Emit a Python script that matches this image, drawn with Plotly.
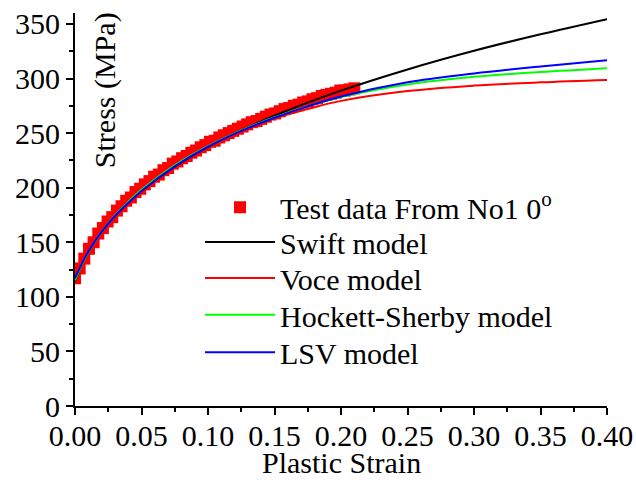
import plotly.graph_objects as go

# ---- data ----
test_strain = [0.0, 0.0035, 0.007, 0.0105, 0.014, 0.0175, 0.021, 0.0245, 0.028, 0.0315,
               0.035, 0.0385, 0.042, 0.0455, 0.049, 0.0525, 0.056, 0.0595, 0.063, 0.0665,
               0.07, 0.0735, 0.077, 0.0805, 0.084, 0.0875, 0.091, 0.0945, 0.098, 0.1015,
               0.105, 0.1085, 0.112, 0.1155, 0.119, 0.1225, 0.126, 0.1295, 0.133, 0.1365,
               0.14, 0.1435, 0.147, 0.1505, 0.154, 0.1575, 0.161, 0.1645, 0.168, 0.1715,
               0.175, 0.1785, 0.182, 0.1855, 0.189, 0.1925, 0.196, 0.1995, 0.203, 0.2065, 0.21]
test_stress = [117, 126, 135, 144, 150, 158, 163, 169, 173, 179,
               183, 188, 191, 196, 199, 203, 206, 210, 212, 216,
               218, 222, 224, 227, 229, 232, 234, 237, 239, 242,
               243, 246, 248, 250, 252, 254, 256, 258, 260, 261,
               263, 265, 267, 268, 270, 272, 273, 275, 276, 278,
               279, 281, 282, 284, 285, 286, 287, 289, 289, 290, 291]

model_strain = [0.0, 0.005, 0.01, 0.02, 0.03, 0.04, 0.05, 0.075, 0.1, 0.125,
                0.15, 0.175, 0.2, 0.25, 0.3, 0.35, 0.4]
swift_stress = [114.2, 129.2, 141.1, 159.7, 174.2, 186.5, 197.2, 219.2, 237.3, 252.4,
                265.9, 277.9, 288.9, 308.3, 325.4, 340.5, 354.4]
voce_stress = [116, 130.5, 143, 162, 177, 189.5, 200, 221.5, 238.5, 252,
               263.5, 272, 279.5, 288.5, 293.5, 296.5, 298.7]
hs_stress = [115, 129, 141, 159.5, 174.5, 187, 198, 220.5, 238, 252.5,
             264.5, 274.5, 283, 294.5, 301.5, 306, 309.5]
lsv_stress = [117, 130, 141.5, 159.5, 174, 186, 197, 219.5, 237.5, 252,
              264, 274.5, 283.5, 296.5, 304.5, 311, 316.8]

x_ticks = [0.0, 0.05, 0.10, 0.15, 0.20, 0.25, 0.30, 0.35, 0.40]
y_ticks = [0, 50, 100, 150, 200, 250, 300, 350]

FONT = "Liberation Serif, Times New Roman, serif"

fig = go.Figure()
fig.add_trace(go.Scatter(x=test_strain, y=test_stress, mode="markers",
                         marker=dict(symbol="square", size=12, color="#ff0000", line=dict(width=0)),
                         name="Test data From No1 0<sup>o</sup>", legend="legend"))
fig.add_trace(go.Scatter(x=model_strain, y=swift_stress, mode="lines", line=dict(color="#000000", width=2, shape="spline"),
                         name="Swift model", legend="legend2"))
fig.add_trace(go.Scatter(x=model_strain, y=voce_stress, mode="lines", line=dict(color="#ff0000", width=2, shape="spline"),
                         name="Voce model", legend="legend3"))
fig.add_trace(go.Scatter(x=model_strain, y=hs_stress, mode="lines", line=dict(color="#00ff00", width=2, shape="spline"),
                         name="Hockett-Sherby model", legend="legend4"))
fig.add_trace(go.Scatter(x=model_strain, y=lsv_stress, mode="lines", line=dict(color="#0000ff", width=2, shape="spline"),
                         name="LSV model", legend="legend5"))

def leg(yc, sizing="trace"):
    return dict(x=0.235, y=yc, xanchor="left", yanchor="middle", bgcolor="rgba(0,0,0,0)",
                font=dict(family=FONT, size=30), itemwidth=70, itemsizing=sizing)

fig.update_layout(
    width=636, height=481,
    margin=dict(l=75, r=29, t=13, b=75),
    paper_bgcolor="white", plot_bgcolor="white",
    font=dict(family=FONT, size=30, color="black"),
    showlegend=True,
    legend=leg(0.506, "constant"), legend2=leg(0.417), legend3=leg(0.326), legend4=leg(0.232), legend5=leg(0.137),
    xaxis=dict(range=[0, 0.4], tickvals=x_ticks, ticktext=[f"{v:.2f}" for v in x_ticks], automargin=False,
               showgrid=False, zeroline=False, showline=True, linecolor="black", linewidth=2,
               ticks="outside", ticklen=7, tickwidth=2, tickcolor="black", ticklabelstandoff=-5,
               minor=dict(dtick=0.025, ticks="outside", ticklen=4, tickwidth=2, tickcolor="black", showgrid=False)),
    yaxis=dict(range=[0, 360], tickvals=y_ticks, automargin=False,
               showgrid=False, zeroline=False, showline=True, linecolor="black", linewidth=2,
               ticks="outside", ticklen=7, tickwidth=2, tickcolor="black",
               minor=dict(dtick=25, ticks="outside", ticklen=4, tickwidth=2, tickcolor="black", showgrid=False)),
    annotations=[dict(text="Stress (MPa)", textangle=-90, xref="paper", yref="paper",
                      x=0.057, y=1.008, xanchor="center", yanchor="top", showarrow=False,
                      font=dict(family=FONT, size=30)),
                 dict(text="Plastic Strain", xref="paper", yref="paper",
                      x=0.5, y=-0.145, xanchor="center", yanchor="middle", showarrow=False,
                      font=dict(family=FONT, size=30))],
)

fig.write_html("out.html")
